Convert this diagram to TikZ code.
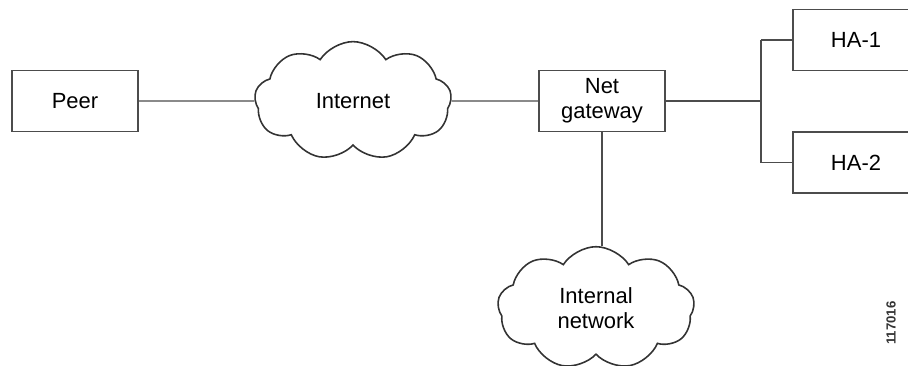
\documentclass[tikz,border=0pt]{standalone}
\usepackage{fontspec}
\setmainfont{Liberation Sans}
\usetikzlibrary{shapes.symbols}
\tikzset{
  box/.style={draw=black!70, line width=0.8pt, minimum width=2.52cm, minimum height=1.22cm, inner sep=0pt},
  net/.style={cloud, cloud puffs=9, cloud puff arc=115, draw=black!80, line width=0.9pt, minimum width=3.94cm, minimum height=2.3cm, inner sep=0pt, align=center},
  link/.style={draw=black!70, line width=0.8pt}
}
\begin{document}
\begin{tikzpicture}[x=0.02cm, y=-0.02cm, font=\fontsize{12.5}{14}\selectfont]
    \clip (0,0) rectangle (908,365);
    \node[box] (peer) at (75,101) {Peer};
    \node[net] (inet) at (353,101) {Internet};
    \node[box, align=center] (gw) at (602,101) {Net\\gateway};
    \node[net] (lan) at (596,308) {Internal\\network};
    \node[box] (ha1) at (856,40) {HA-1};
    \node[box] (ha2) at (856,162.5) {HA-2};
    \coordinate (bus) at (761,101);
    \draw[link] (peer.east) -- (inet.west);
    \draw[link] (inet.east) -- (gw.west);
    \draw[link] (gw.south) -- (gw.south |- lan.north);
    \draw[link] (gw.east) -- (bus);
    \draw[link] (ha1.west -| bus) -- (ha2.west -| bus); % bus
    \foreach \h in {ha1,ha2} \draw[link] (\h.west -| bus) -- (\h.west);
    \node[rotate=90, font=\fontsize{7.5}{9}\selectfont\bfseries, text=black!80] (fig) at (891,323) {117016};
\end{tikzpicture}
\end{document}
